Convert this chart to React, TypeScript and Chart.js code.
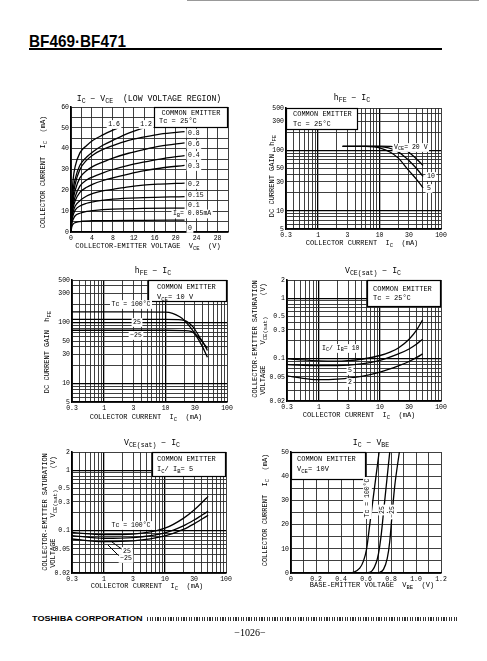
import React, { useEffect, useRef } from 'react';
import { Chart, registerables } from 'chart.js';
Chart.register(...registerables);

type Pt = [number, number];
const MONO = '"Liberation Mono", "DejaVu Sans Mono", monospace';

// ================= Chart 1 : IC - VCE (low voltage region) =================
const c1XTickLabels = ['0', '4', '8', '12', '16', '20', '24', '28'];
const c1YTickLabels = ['0', '10', '20', '30', '40', '50', '60'];
const c1Ib16: Pt[] = [[0, 0], [0.15, 15], [0.4, 25], [0.8, 31.5], [1.7, 38], [3, 41.5], [4.2, 44], [6, 46.5], [9, 50]];
const c1Ib12: Pt[] = [[0, 0], [0.15, 12], [0.4, 20], [0.8, 25.5], [1.7, 32], [3, 36], [4.2, 38.5], [6, 41.5], [8, 44], [11, 47.5], [13.8, 50]];
const c1Ib08: Pt[] = [[0, 0], [0.15, 10], [0.4, 17], [0.8, 23], [1.7, 30], [3, 34.5], [4.2, 37], [6, 39.5], [8, 41.5], [11, 44], [13.8, 45.5], [17, 47], [21.7, 48.2]];
const c1Ib06: Pt[] = [[0, 0], [0.15, 9], [0.4, 15], [0.8, 20], [1.7, 26], [3, 29.5], [4.2, 31.5], [6, 33.5], [8, 35.5], [11, 37.8], [13.8, 39.5], [17, 41.2], [21.7, 42.8]];
const c1Ib04: Pt[] = [[0, 0], [0.15, 8], [0.4, 13], [0.8, 17], [1.7, 22], [3, 25], [4.2, 26.5], [6, 28.3], [8, 30], [11, 32], [13.8, 33.5], [17, 35], [21.7, 36.7]];
const c1Ib03: Pt[] = [[0, 0], [0.15, 7], [0.4, 11.5], [0.8, 15], [1.7, 19], [3, 21.5], [4.2, 23], [6, 24.6], [8, 26], [11, 27.8], [13.8, 29.3], [17, 30.6], [21.7, 32]];
const c1Ib02: Pt[] = [[0, 0], [0.15, 6], [0.4, 9.5], [0.8, 12.5], [1.7, 15], [3, 17.3], [4.2, 18.5], [6, 19.7], [8, 20.5], [11, 21.7], [13.8, 22.5], [17, 23], [21.7, 23.5]];
const c1Ib015: Pt[] = [[0, 0], [0.15, 5], [0.4, 8], [0.8, 10.5], [1.7, 12.5], [3, 13.8], [4.2, 14.5], [6, 15.2], [8, 15.8], [13.8, 16.5], [21.7, 17]];
const c1Ib01: Pt[] = [[0, 0], [0.15, 4], [0.4, 6], [0.8, 7.8], [1.7, 9], [3, 9.9], [4.2, 10.3], [8, 11], [13.8, 11.3], [21.7, 11.5]];
const c1Ib005: Pt[] = [[0, 0], [0.15, 2.5], [0.4, 3.8], [0.8, 4.5], [1.7, 5], [4.2, 5.4], [13.8, 5.6], [21.7, 5.7]];
const c1Ib0: Pt[] = [[0, 0], [21.7, 0]];

// ================= Chart 2 : hFE - IC (VCE) =================
const c2XTickLabels = ['0.3', '1', '3', '10', '30', '100'];
const c2YTickLabels = ['5', '10', '30', '50', '100', '300', '500'];
const c2Vce20: Pt[] = [[2.5, 116], [10, 117], [15, 116], [20, 112], [25, 104], [30, 93], [40, 72], [51, 56]];
const c2Vce10: Pt[] = [[2.5, 116], [8, 116], [12, 113], [16, 105], [20, 94], [25, 80], [30, 68], [40, 50], [51, 37]];
const c2Vce5: Pt[] = [[2.5, 116], [6, 116], [8, 114], [10, 110], [15, 93], [20, 75], [30, 46], [40, 33], [51, 24]];

// ================= Chart 3 : hFE - IC (Tc) =================
const c3XTickLabels = ['0.3', '1', '3', '10', '30', '100'];
const c3YTickLabels = ['5', '10', '30', '50', '100', '300', '500'];
const c3Tc100: Pt[] = [[0.3, 150], [3, 150], [10, 149], [13, 142], [17, 125], [20, 110], [25, 85], [30, 66], [40, 40], [48, 27]];
const c3Tc25: Pt[] = [[0.3, 113], [10, 113], [18, 111], [22, 105], [28, 85], [35, 60], [42, 45], [48, 35]];
const c3TcM25: Pt[] = [[0.3, 75], [10, 75], [20, 74], [26, 72], [32, 62], [40, 48], [48, 38]];

// ================= Chart 4 : VCE(sat) - IC (IC/IB) =================
const c4XTickLabels = ['0.3', '1', '3', '10', '30', '100'];
const c4YTickLabels = ['0.02', '0.05', '0.1', '0.3', '0.5', '1', '2'];
const c4Ratio10: Pt[] = [[0.3, 0.1], [0.5, 0.096], [1, 0.092], [2, 0.091], [3, 0.093], [5, 0.098], [10, 0.113], [15, 0.13], [20, 0.15], [30, 0.21], [40, 0.3], [50, 0.44]];
const c4Ratio5: Pt[] = [[0.3, 0.08], [1, 0.077], [2, 0.077], [5, 0.082], [10, 0.094], [20, 0.12], [30, 0.145], [40, 0.175], [50, 0.21]];
const c4Ratio2: Pt[] = [[0.3, 0.052], [0.6, 0.047], [1, 0.045], [2, 0.046], [5, 0.051], [10, 0.06], [20, 0.076], [30, 0.09], [40, 0.105], [50, 0.12]];

// ================= Chart 5 : VCE(sat) - IC (Tc) =================
const c5XTickLabels = ['0.3', '1', '3', '10', '30', '100'];
const c5YTickLabels = ['0.02', '0.05', '0.1', '0.3', '0.5', '1', '2'];
const c5Tc100: Pt[] = [[0.3, 0.094], [1, 0.086], [3, 0.088], [10, 0.11], [20, 0.16], [30, 0.22], [40, 0.29], [51, 0.37]];
const c5Tc25: Pt[] = [[0.3, 0.083], [1, 0.075], [3, 0.077], [10, 0.092], [20, 0.12], [30, 0.15], [40, 0.18], [51, 0.21]];
const c5TcM25: Pt[] = [[0.3, 0.073], [1, 0.066], [3, 0.068], [10, 0.082], [20, 0.105], [30, 0.13], [40, 0.155], [51, 0.18]];

// ================= Chart 6 : IC - VBE =================
const c6XTickLabels = ['0', '0.2', '0.4', '0.6', '0.8', '1.0', '1.2'];
const c6YTickLabels = ['0', '10', '20', '30', '40', '50'];
const c6Tc100: Pt[] = [[0.45, 0], [0.5, 0.3], [0.55, 2], [0.58, 5], [0.605, 10], [0.63, 20], [0.655, 30], [0.68, 40], [0.705, 50]];
const c6Tc25: Pt[] = [[0.6, 0], [0.65, 1], [0.68, 4], [0.7, 8], [0.72, 15], [0.74, 25], [0.76, 35], [0.79, 50]];
const c6TcM25: Pt[] = [[0.7, 0], [0.74, 1.5], [0.77, 6], [0.79, 13], [0.81, 25], [0.83, 36], [0.867, 50]];

// ================= helpers =================
function linGrid(min: number, max: number, step: number): number[] {
  const a: number[] = [];
  for (let i = 0; min + i * step <= max + 1e-9; i++) a.push(+(min + i * step).toFixed(6));
  return a;
}
function logGrid(min: number, max: number): number[] {
  const a: number[] = [];
  for (let e = -3; e <= 3; e++) {
    for (let k = 1; k < 10; k++) {
      const v = +(k * Math.pow(10, e)).toPrecision(6);
      if (v >= min * (1 - 1e-9) && v <= max * (1 + 1e-9)) a.push(v);
    }
  }
  return a;
}

interface Txt { s: string; x: number; y: number; size?: number; align?: 'left' | 'center' | 'right'; rot?: number; bg?: boolean }
interface AxisSpec { type: 'linear' | 'logarithmic'; min: number; max: number; grid: number[]; labels: string[]; majors?: number[] }
interface Spec {
  L: number; T: number; R: number; B: number;
  x: AxisSpec; y: AxisSpec;
  series: Pt[][];
  boxes: [number, number, number, number][];
  texts: Txt[];
  lines?: [number, number, number, number][];
}

function parseRich(s: string) {
  const out: { t: string; sub: boolean }[] = [];
  let buf = '';
  let i = 0;
  while (i < s.length) {
    if (s[i] === '{') {
      if (buf) out.push({ t: buf, sub: false });
      buf = '';
      const j = s.indexOf('}', i);
      out.push({ t: s.slice(i + 1, j), sub: true });
      i = j + 1;
      continue;
    }
    buf += s[i];
    i++;
  }
  if (buf) out.push({ t: buf, sub: false });
  return out;
}

function drawRich(ctx: CanvasRenderingContext2D, t: Txt, ox: number, oy: number) {
  const size = t.size || 7;
  const subSize = size * 0.8;
  const segs = parseRich(t.s);
  ctx.save();
  ctx.translate(t.x - ox, t.y - oy);
  if (t.rot) ctx.rotate((t.rot * Math.PI) / 180);
  const widths = segs.map((g) => {
    ctx.font = `${g.sub ? subSize : size}px ${MONO}`;
    return ctx.measureText(g.t).width;
  });
  const total = widths.reduce((a, b) => a + b, 0);
  const align = t.align || 'center';
  let cx = align === 'center' ? -total / 2 : align === 'right' ? -total : 0;
  if (t.bg) {
    ctx.fillStyle = '#fff';
    ctx.fillRect(cx - 1.5, -size * 0.6, total + 3, size * 1.35);
  }
  ctx.fillStyle = '#000';
  ctx.textBaseline = 'middle';
  ctx.textAlign = 'left';
  segs.forEach((g, i) => {
    ctx.font = `${g.sub ? subSize : size}px ${MONO}`;
    ctx.fillText(g.t, cx, g.sub ? size * 0.32 : 0);
    cx += widths[i];
  });
  ctx.restore();
}

const PL = 80, PT = 24, PR = 12, PB = 24, YW = 22, XH = 10;

function makeAxis(a: AxisSpec, isX: boolean) {
  const vals = a.labels.map(parseFloat);
  const near = (v: number, w: number) => Math.abs(v - w) <= 1e-6 * Math.max(Math.abs(w), 1e-6);
  const isMajor = (v: number) => (a.majors || []).some((m) => near(v, m));
  return {
    type: a.type,
    min: a.min,
    max: a.max,
    position: isX ? 'bottom' : 'left',
    afterBuildTicks: (s: any) => {
      s.ticks = a.grid.map((v) => ({ value: v }));
    },
    afterFit: (s: any) => {
      if (isX) s.height = XH;
      else s.width = YW;
    },
    ticks: {
      autoSkip: false,
      maxRotation: 0,
      minRotation: 0,
      padding: 2,
      color: '#000',
      font: { family: MONO, size: 6.5 },
      callback: (v: any) => {
        const i = vals.findIndex((w) => near(Number(v), w));
        return i < 0 ? '' : a.labels[i];
      },
    },
    grid: {
      drawTicks: false,
      color: (c: any) => (c.tick && isMajor(c.tick.value) ? '#000' : '#2a2a2a'),
      lineWidth: (c: any) => (c.tick && isMajor(c.tick.value) ? 1.3 : 0.9),
    },
    border: { display: true, color: '#000', width: 1.6 },
  };
}

function Plot({ spec }: { spec: Spec }) {
  const ref = useRef<HTMLCanvasElement>(null);
  const w = spec.R - spec.L + PL + PR;
  const h = spec.B - spec.T + PT + PB;
  const ox = spec.L - PL;
  const oy = spec.T - PT;
  useEffect(() => {
    if (!ref.current) return;
    const deco = {
      id: 'deco',
      beforeDatasetsDraw(chart: any) {
        const ctx = chart.ctx as CanvasRenderingContext2D;
        ctx.save();
        for (const [x0, y0, x1, y1] of spec.boxes) {
          ctx.fillStyle = '#fff';
          ctx.fillRect(x0 - ox, y0 - oy, x1 - x0, y1 - y0);
          ctx.strokeStyle = '#000';
          ctx.lineWidth = 1.2;
          ctx.strokeRect(x0 - ox + 0.5, y0 - oy + 0.5, x1 - x0 - 1, y1 - y0 - 1);
        }
        ctx.restore();
      },
      afterDraw(chart: any) {
        const ctx = chart.ctx as CanvasRenderingContext2D;
        ctx.save();
        ctx.strokeStyle = '#000';
        ctx.lineWidth = 1;
        for (const [x0, y0, x1, y1] of spec.lines || []) {
          ctx.beginPath();
          ctx.moveTo(x0 - ox, y0 - oy);
          ctx.lineTo(x1 - ox, y1 - oy);
          ctx.stroke();
        }
        ctx.restore();
        for (const t of spec.texts) drawRich(ctx, t, ox, oy);
      },
    };
    const chart = new Chart(ref.current, {
      type: 'scatter',
      data: {
        datasets: spec.series.map((pts) => ({
          data: pts.map(([x, y]) => ({ x, y })),
          showLine: true,
          borderColor: '#000',
          borderWidth: 1.3,
          pointRadius: 0,
          cubicInterpolationMode: 'monotone',
          fill: false,
        })),
      },
      options: {
        responsive: false,
        animation: false,
        devicePixelRatio: 1,
        events: [],
        layout: { padding: { left: PL - YW, top: PT, right: PR, bottom: PB - XH } },
        plugins: { legend: { display: false }, tooltip: { enabled: false }, title: { display: false } },
        scales: { x: makeAxis(spec.x, true), y: makeAxis(spec.y, false) },
      } as any,
      plugins: [deco],
    } as any);
    return () => chart.destroy();
  }, []);
  return (
    <div style={{ position: 'absolute', left: ox, top: oy, width: w, height: h }}>
      <canvas ref={ref} width={w} height={h} style={{ width: w, height: h, display: 'block' }} />
    </div>
  );
}

// ================= chart specs =================
const spec1: Spec = {
  L: 71, T: 107, R: 228, B: 232,
  x: { type: 'linear', min: 0, max: 30, grid: linGrid(0, 30, 2), labels: c1XTickLabels },
  y: { type: 'linear', min: 0, max: 60, grid: linGrid(0, 60, 5), labels: c1YTickLabels },
  series: [c1Ib16, c1Ib12, c1Ib08, c1Ib06, c1Ib04, c1Ib03, c1Ib02, c1Ib015, c1Ib01, c1Ib005, c1Ib0],
  boxes: [[154, 107, 228, 128]],
  texts: [
    { s: 'I{C} − V{CE}  (LOW VOLTAGE REGION)', x: 149, y: 99, size: 8.2 },
    { s: 'COLLECTOR-EMITTER VOLTAGE  V{CE}  (V)', x: 148, y: 246 },
    { s: 'COLLECTOR CURRENT  I{C}  (mA)', x: 43, y: 172, rot: -90 },
    { s: 'COMMON EMITTER', x: 191, y: 113 },
    { s: 'Tc = 25°C', x: 159, y: 121.5, align: 'left' },
    { s: '1.6', x: 114, y: 124, bg: true, size: 6.5 },
    { s: '1.2', x: 146, y: 124, bg: true, size: 6.5 },
    { s: '0.8', x: 188, y: 133, align: 'left', bg: true, size: 6.5 },
    { s: '0.6', x: 188, y: 144, align: 'left', bg: true, size: 6.5 },
    { s: '0.4', x: 188, y: 155, align: 'left', bg: true, size: 6.5 },
    { s: '0.3', x: 188, y: 166, align: 'left', bg: true, size: 6.5 },
    { s: '0.2', x: 188, y: 184, align: 'left', bg: true, size: 6.5 },
    { s: '0.15', x: 188, y: 195, align: 'left', bg: true, size: 6.5 },
    { s: '0.1', x: 188, y: 205, align: 'left', bg: true, size: 6.5 },
    { s: 'I{B}= 0.05mA', x: 173, y: 213.5, align: 'left', bg: true, size: 6.5 },
    { s: '0', x: 188, y: 228, align: 'left', bg: true, size: 6.5 },
  ],
};

const spec2: Spec = {
  L: 286, T: 108, R: 441, B: 229,
  x: { type: 'logarithmic', min: 0.3, max: 100, grid: logGrid(0.3, 100), labels: c2XTickLabels, majors: [1, 10] },
  y: { type: 'logarithmic', min: 5, max: 500, grid: logGrid(5, 500), labels: c2YTickLabels, majors: [10, 100] },
  series: [c2Vce20, c2Vce10, c2Vce5],
  boxes: [[286, 108, 358, 130]],
  texts: [
    { s: 'h{FE} − I{C}', x: 352, y: 98, size: 8.2 },
    { s: 'COLLECTOR CURRENT  I{C}  (mA)', x: 362, y: 243 },
    { s: 'DC CURRENT GAIN  h{FE}', x: 272, y: 176, rot: -90 },
    { s: 'COMMON EMITTER', x: 293, y: 114, align: 'left' },
    { s: 'Tc = 25°C', x: 293, y: 124, align: 'left' },
    { s: 'V{CE}= 20 V', x: 394, y: 147, align: 'left', bg: true, size: 6.5 },
    { s: '10', x: 427, y: 176, align: 'left', bg: true, size: 6.5 },
    { s: '5', x: 427, y: 188, align: 'left', bg: true, size: 6.5 },
  ],
};

const spec3: Spec = {
  L: 72, T: 280, R: 227, B: 402,
  x: { type: 'logarithmic', min: 0.3, max: 100, grid: logGrid(0.3, 100), labels: c3XTickLabels, majors: [1, 10] },
  y: { type: 'logarithmic', min: 5, max: 500, grid: logGrid(5, 500), labels: c3YTickLabels, majors: [10, 100] },
  series: [c3Tc100, c3Tc25, c3TcM25],
  boxes: [[148, 280, 227, 302]],
  texts: [
    { s: 'h{FE} − I{C}', x: 153, y: 271, size: 8.2 },
    { s: 'COLLECTOR CURRENT  I{C}  (mA)', x: 146, y: 417 },
    { s: 'DC CURRENT GAIN  h{FE}', x: 47, y: 352, rot: -90 },
    { s: 'COMMON EMITTER', x: 157, y: 287, align: 'left' },
    { s: 'V{CE}= 10 V', x: 157, y: 297, align: 'left' },
    { s: 'Tc = 100°C', x: 131, y: 304, bg: true, size: 6.5 },
    { s: '25', x: 137, y: 322, bg: true, size: 6.5 },
    { s: '−25', x: 136, y: 335, bg: true, size: 6.5 },
  ],
};

const spec4: Spec = {
  L: 287, T: 280, R: 441, B: 401,
  x: { type: 'logarithmic', min: 0.3, max: 100, grid: logGrid(0.3, 100), labels: c4XTickLabels, majors: [1, 10] },
  y: { type: 'logarithmic', min: 0.02, max: 2, grid: logGrid(0.02, 2), labels: c4YTickLabels, majors: [0.1, 1] },
  series: [c4Ratio10, c4Ratio5, c4Ratio2],
  boxes: [[367, 280, 441, 307]],
  texts: [
    { s: 'V{CE(sat)} − I{C}', x: 373, y: 271, size: 8.2 },
    { s: 'COLLECTOR CURRENT  I{C}  (mA)', x: 359, y: 415 },
    { s: 'COLLECTOR-EMITTER SATURATION', x: 255, y: 339, rot: -90 },
    { s: 'VOLTAGE     V{CE(sat)}     (V)', x: 263, y: 339, rot: -90 },
    { s: 'COMMON EMITTER', x: 373, y: 289, align: 'left' },
    { s: 'Tc = 25°C', x: 373, y: 298, align: 'left' },
    { s: 'I{C}/ I{B}= 10', x: 322, y: 348, align: 'left', bg: true, size: 6.5 },
    { s: '5', x: 350, y: 370, bg: true, size: 6.5 },
    { s: '2', x: 350, y: 382, bg: true, size: 6.5 },
  ],
};

const spec5: Spec = {
  L: 72, T: 452, R: 226, B: 573,
  x: { type: 'logarithmic', min: 0.3, max: 100, grid: logGrid(0.3, 100), labels: c5XTickLabels, majors: [1, 10] },
  y: { type: 'logarithmic', min: 0.02, max: 2, grid: logGrid(0.02, 2), labels: c5YTickLabels, majors: [0.1, 1] },
  series: [c5Tc100, c5Tc25, c5TcM25],
  boxes: [[152, 452, 226, 477]],
  lines: [[112, 542, 123, 550], [108, 545, 119, 556]],
  texts: [
    { s: 'V{CE(sat)} − I{C}', x: 152, y: 443, size: 8.2 },
    { s: 'COLLECTOR CURRENT  I{C}  (mA)', x: 147, y: 586 },
    { s: 'COLLECTOR-EMITTER SATURATION', x: 45, y: 512, rot: -90 },
    { s: 'VOLTAGE     V{CE(sat)}     (V)', x: 53, y: 512, rot: -90 },
    { s: 'COMMON EMITTER', x: 157, y: 459, align: 'left' },
    { s: 'I{C}/ I{B}= 5', x: 157, y: 469, align: 'left' },
    { s: 'Tc = 100°C', x: 131, y: 525, bg: true, size: 6.5 },
    { s: '25', x: 127, y: 551, bg: true, size: 6.5 },
    { s: '−25', x: 126, y: 558, bg: true, size: 6.5 },
  ],
};

const spec6: Spec = {
  L: 291, T: 452, R: 441, B: 573,
  x: { type: 'linear', min: 0, max: 1.2, grid: linGrid(0, 1.2, 0.1), labels: c6XTickLabels },
  y: { type: 'linear', min: 0, max: 50, grid: linGrid(0, 50, 5), labels: c6YTickLabels },
  series: [c6Tc100, c6Tc25, c6TcM25],
  boxes: [[291, 452, 366, 480]],
  texts: [
    { s: 'I{C} − V{BE}', x: 371, y: 443, size: 8.2 },
    { s: 'BASE-EMITTER VOLTAGE  V{BE}  (V)', x: 372, y: 585 },
    { s: 'COLLECTOR CURRENT  I{C}  (mA)', x: 265, y: 510, rot: -90 },
    { s: 'COMMON EMITTER', x: 297, y: 459, align: 'left' },
    { s: 'V{CE}= 10V', x: 297, y: 469, align: 'left' },
    { s: 'Tc = 100°C', x: 367, y: 498, rot: -90, bg: true, size: 6.5 },
    { s: '25', x: 382, y: 510, rot: -90, bg: true, size: 6.5 },
    { s: '−25', x: 392, y: 512, rot: -90, bg: true, size: 6.5 },
  ],
};

const specs = [spec1, spec2, spec3, spec4, spec5, spec6];

export default function App() {
  return (
    <div style={{ position: 'absolute', left: 0, top: 0, width: 487, height: 661, background: '#fff', overflow: 'hidden' }}>
      <div style={{ position: 'absolute', left: 187, top: 0, width: 292, height: 1, background: '#999' }} />
      <div
        style={{
          position: 'absolute', left: 29, top: 33, fontFamily: '"Liberation Sans", Arial, sans-serif', fontWeight: 700,
          fontSize: 17, lineHeight: '17px', transform: 'scaleX(0.9)', transformOrigin: 'left top', whiteSpace: 'nowrap', color: '#000',
        }}
      >
        BF469·BF471
      </div>
      <div style={{ position: 'absolute', left: 29, top: 48, width: 413, height: 2, background: '#000' }} />
      {specs.map((s, i) => (
        <Plot key={i} spec={s} />
      ))}
      <div
        style={{
          position: 'absolute', left: 32, top: 615, fontFamily: '"Liberation Sans", Arial, sans-serif', fontWeight: 900,
          fontSize: 7, lineHeight: '8px', transform: 'scaleX(1.3)', transformOrigin: 'left top', whiteSpace: 'nowrap', color: '#000',
        }}
      >
        TOSHIBA CORPORATION
      </div>
      <div
        style={{
          position: 'absolute', left: 147, top: 617, width: 310, height: 4,
          background: 'repeating-linear-gradient(90deg, #333 0px, #333 1.2px, transparent 1.2px, transparent 2.6px)',
        }}
      />
      <div
        style={{
          position: 'absolute', left: 250, top: 627, transform: 'translateX(-50%)', fontFamily: '"Liberation Serif", serif',
          fontSize: 10, lineHeight: '12px', whiteSpace: 'nowrap', color: '#000',
        }}
      >
        −1026−
      </div>
    </div>
  );
}
